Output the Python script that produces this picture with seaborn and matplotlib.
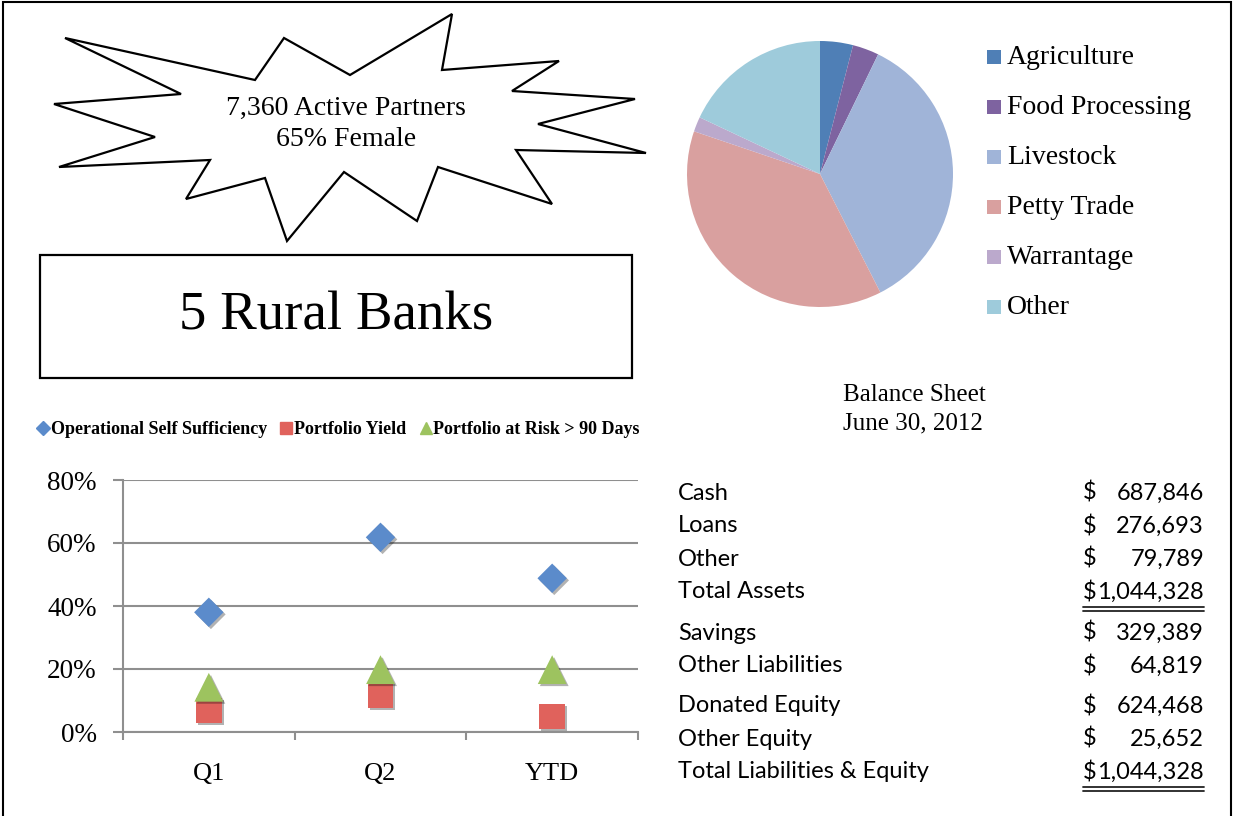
import numpy as np
import pandas as pd
import seaborn as sns
import matplotlib.pyplot as plt
import matplotlib.patheffects as pe
from matplotlib.patches import Polygon, Rectangle
from matplotlib.lines import Line2D

sns.set_theme(style="white")
plt.rcParams['font.family'] = ['Liberation Serif', 'DejaVu Serif']
plt.rcParams['text.color'] = 'black'
plt.rcParams['xtick.color'] = 'black'
plt.rcParams['ytick.color'] = 'black'

W, H = 1234, 816

# ---- data ----
sectors = ['Agriculture', 'Food Processing', 'Livestock', 'Petty Trade', 'Warrantage', 'Other']
sector_share = [4.0, 3.2, 35.3, 37.7, 1.8, 18.0]
sector_colors = ['#4F7FB6', '#7E63A0', '#A0B4D8', '#D9A09F', '#BBA9CC', '#9ECBDB']

periods = ['Q1', 'Q2', 'YTD']
oss = [0.38, 0.618, 0.488]
portfolio_yield = [0.068, 0.117, 0.049]
par90 = [0.142, 0.198, 0.198]
metrics = ['Operational Self Sufficiency', 'Portfolio Yield', 'Portfolio at Risk > 90 Days']
metric_colors = ['#5B8BCB', '#E0625C', '#9DC35F']
metric_markers = ['D', 's', '^']
metric_sizes = [225, 340, 430]

bs_labels = ['Cash', 'Loans', 'Other', 'Total Assets', 'Savings', 'Other Liabilities',
             'Donated Equity', 'Other Equity', 'Total Liabilities & Equity']
bs_values = [687846, 276693, 79789, 1044328, 329389, 64819, 624468, 25652, 1044328]
bs_totals = ['Total Assets', 'Total Liabilities & Equity']

partners = 7360
female_pct = 65
n_banks = 5


def fx(x):
    return x / W


def fy(y):
    return 1 - y / H


fig = plt.figure(figsize=(W / 100, H / 100), dpi=100)
fig.patch.set_facecolor('white')

# outer frame
fig.add_artist(Rectangle((fx(3), fy(818)), fx(1228), 816 / H, transform=fig.transFigure,
                         fill=False, edgecolor='black', linewidth=1.5))

# ---- starburst callout ----
star = [(65, 38), (255, 80), (284, 38), (350, 75), (452, 14), (442, 70), (559, 61), (512, 91),
        (635, 99), (538, 124), (646, 153), (516, 150), (552, 204), (438, 167), (417, 221),
        (344, 172), (287, 241), (265, 178), (186, 199), (210, 160), (59, 167), (155, 137),
        (54, 104), (181, 94)]
fig.add_artist(Polygon([(fx(x), fy(y)) for x, y in star], closed=True, transform=fig.transFigure,
                       facecolor='white', edgecolor='black', linewidth=1.6))
fig.text(fx(346), fy(108), f'{partners:,} Active Partners', ha='center', va='center', fontsize=20)
fig.text(fx(346), fy(139), f'{female_pct}% Female', ha='center', va='center', fontsize=20)

# ---- rural banks box ----
fig.add_artist(Rectangle((fx(40), fy(378)), fx(592), 123 / H, transform=fig.transFigure,
                         fill=False, edgecolor='black', linewidth=1.6))
fig.text(fx(336), fy(316), f'{n_banks} Rural Banks', ha='center', va='center', fontsize=39.5)

# ---- pie ----
ax_pie = fig.add_axes([fx(687), fy(307), 266 / W, 266 / H])
ax_pie.pie(sector_share, colors=sector_colors, startangle=90, counterclock=False,
           wedgeprops=dict(linewidth=0))
ax_pie.set_xlim(-1, 1)
ax_pie.set_ylim(-1, 1)
ax_pie.set_aspect('equal')
ax_pie.axis('off')

for i, (name, col) in enumerate(zip(sectors, sector_colors)):
    yc = 57 + 50 * i
    fig.add_artist(Rectangle((fx(987), fy(yc + 7)), 14 / W, 14 / H, transform=fig.transFigure,
                             facecolor=col, edgecolor='none'))
    fig.text(fx(1007), fy(yc), name, ha='left', va='center', fontsize=20)

# ---- scatter ----
df = pd.DataFrame({
    'period': periods * 3,
    'value': oss + portfolio_yield + par90,
    'metric': [m for m in metrics for _ in periods],
})

ax = fig.add_axes([fx(123), fy(732), 515 / W, 252 / H])
shadow = [pe.SimplePatchShadow(offset=(1.5, -1.5), shadow_rgbFace='black', alpha=0.3), pe.Normal()]
draw_order = [0, 2, 1]
for k in draw_order:
    sub = df[df['metric'] == metrics[k]]
    sns.scatterplot(data=sub, x='period', y='value', ax=ax, marker=metric_markers[k],
                    s=metric_sizes[k], color=metric_colors[k], edgecolor='none',
                    linewidth=0, zorder=3 + k, legend=False)
for coll in ax.collections:
    coll.set_path_effects(shadow)

ax.set_xlim(-0.5, 2.5)
ax.set_ylim(0, 0.8)
ax.set_yticks([0, 0.2, 0.4, 0.6, 0.8])
ax.set_yticklabels(['0%', '20%', '40%', '60%', '80%'])
ax.set_xticks(range(len(periods)))
ax.set_xticklabels(periods)
ax.set_xticks([-0.5, 0.5, 1.5, 2.5], minor=True)
ax.grid(axis='y', color='#8f8f8f', linewidth=1.5)
ax.set_axisbelow(True)
for side in ['top', 'right']:
    ax.spines[side].set_visible(False)
ax.spines['left'].set_color('#8f8f8f')
ax.spines['left'].set_linewidth(1.5)
ax.spines['bottom'].set_color('#8f8f8f')
ax.spines['bottom'].set_linewidth(1.5)
ax.tick_params(axis='y', which='major', left=True, length=7, width=1.5, color='#8f8f8f',
               pad=12, labelsize=19.5, labelcolor='black')
ax.tick_params(axis='x', which='major', bottom=False, length=0, pad=22, labelsize=19,
               labelcolor='black')
ax.tick_params(axis='x', which='minor', bottom=True, length=6, width=1.5, color='#8f8f8f')
ax.set_xlabel('')
ax.set_ylabel('')

handles = [Line2D([], [], linestyle='none', marker=metric_markers[k], color=metric_colors[k],
                  markersize=8.5 if k else 7.5) for k in range(3)]
fig.legend(handles, metrics, loc='center left', bbox_to_anchor=(fx(38), fy(430)), ncol=3,
           frameon=False, handlelength=0.55, handletextpad=0.15, columnspacing=0.8,
           prop=dict(family='Liberation Serif', weight='bold', size=13), borderaxespad=0,
           borderpad=0)

# ---- balance sheet ----
fig.text(fx(843), fy(395), 'Balance Sheet', ha='left', va='center', fontsize=18)
fig.text(fx(843), fy(423), 'June 30, 2012', ha='left', va='center', fontsize=18)

row_y = [491, 524, 557, 590, 631, 664, 704, 737, 770]
for lab, val, yc in zip(bs_labels, bs_values, row_y):
    fig.text(fx(678), fy(yc), lab, ha='left', va='center_baseline', fontsize=17, family='Lato')
    fig.text(fx(1083), fy(yc), '$', ha='left', va='center_baseline', fontsize=17, family='Lato')
    fig.text(fx(1204), fy(yc), f'{val:,}', ha='right', va='center_baseline', fontsize=17,
             family='Lato')
    if lab in bs_totals:
        for dy in (17, 21):
            fig.add_artist(Line2D([fx(1083), fx(1204)], [fy(yc + dy), fy(yc + dy)],
                                  transform=fig.transFigure, color='#222222', linewidth=1.3))

fig.savefig('out.png', dpi=100, facecolor='white')
